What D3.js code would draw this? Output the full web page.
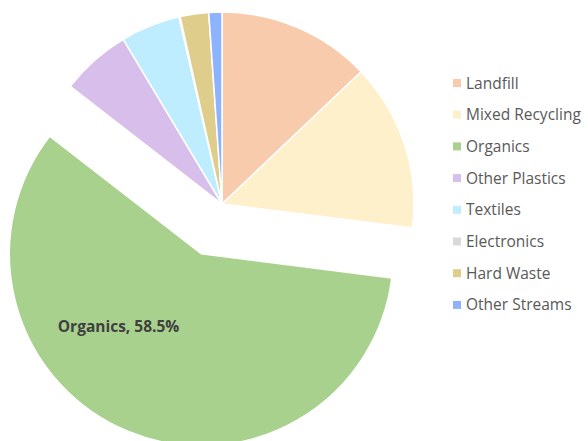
<!DOCTYPE html>
<html lang="en">
<head>
    <meta charset="UTF-8"/>
    <title>Waste Streams</title>
    <script src="https://d3js.org/d3.v7.min.js"></script>
    <style>
        body { margin: 0; background: #fff; }
    </style>
</head>
<body>
    <script>
        // Chart size
        var w = 588;
        var h = 441;

        // Data (percent)
        var categories = ["Landfill", "Mixed Recycling", "Organics", "Other Plastics",
                          "Textiles", "Electronics", "Hard Waste", "Other Streams"];
        var values = [12.9, 14.1, 58.5, 5.9, 5.0, 0.1, 2.4, 1.1];
        var colors = ["#F8CBAD", "#FFF0CC", "#A9D18E", "#D8BEEA",
                      "#BDEDFE", "#D9D9D9", "#DFCD8C", "#8DB3FF"];

        var dataset = categories.map(function(c, i) {
            return { name: c, value: values[i], color: colors[i] };
        });

        var cx = 222, cy = 204, radius = 192;
        var explode = 54; // Organics is pulled out of the pie

        var svg = d3.select("body")
                    .append("svg")
                    .attr("width", w)
                    .attr("height", h);

        var pie = d3.pie()
                    .sort(null)
                    .value(function(d) { return d.value; });

        var arc = d3.arc()
                    .innerRadius(0)
                    .outerRadius(radius);

        var arcs = pie(dataset);

        function offset(d) {
            if (d.data.name !== "Organics") return [0, 0];
            var mid = (d.startAngle + d.endAngle) / 2;
            return [Math.sin(mid) * explode, -Math.cos(mid) * explode];
        }

        var g = svg.append("g")
                   .attr("transform", "translate(" + cx + "," + cy + ")");

        // Slices
        g.selectAll("path")
            .data(arcs)
            .enter()
            .append("path")
            .attr("d", arc)
            .attr("transform", function(d) {
                var o = offset(d);
                return "translate(" + o[0] + "," + o[1] + ")";
            })
            .attr("fill", function(d) { return d.data.color; })
            .attr("stroke", "#fff")
            .attr("stroke-width", 1.5);

        // Label for the big slice
        var org = arcs[2];
        var o = offset(org);
        var la = (org.startAngle + org.endAngle) / 2 + 0.46;
        g.append("text")
            .attr("x", o[0] + Math.sin(la) * 110)
            .attr("y", o[1] - Math.cos(la) * 110 + 6)
            .attr("text-anchor", "middle")
            .attr("font-family", "'Open Sans', sans-serif")
            .attr("font-weight", "bold")
            .attr("font-size", "15.5px")
            .attr("fill", "#404040")
            .text(org.data.name + ", " + d3.format(".1f")(org.data.value) + "%");

        // Legend
        var legend = svg.selectAll("g.legend")
                        .data(dataset)
                        .enter()
                        .append("g")
                        .attr("class", "legend")
                        .attr("transform", function(d, i) {
                            return "translate(453," + (83 + i * 31.7) + ")";
                        });

        legend.append("rect")
              .attr("x", 0)
              .attr("y", -4)
              .attr("width", 8)
              .attr("height", 8)
              .attr("fill", function(d) { return d.color; });

        legend.append("text")
              .attr("x", 13)
              .attr("y", 5.5)
              .attr("font-family", "'Open Sans', sans-serif")
              .attr("font-size", "15.5px")
              .attr("fill", "#595959")
              .text(function(d) { return d.name; });
    </script>
</body>
</html>
